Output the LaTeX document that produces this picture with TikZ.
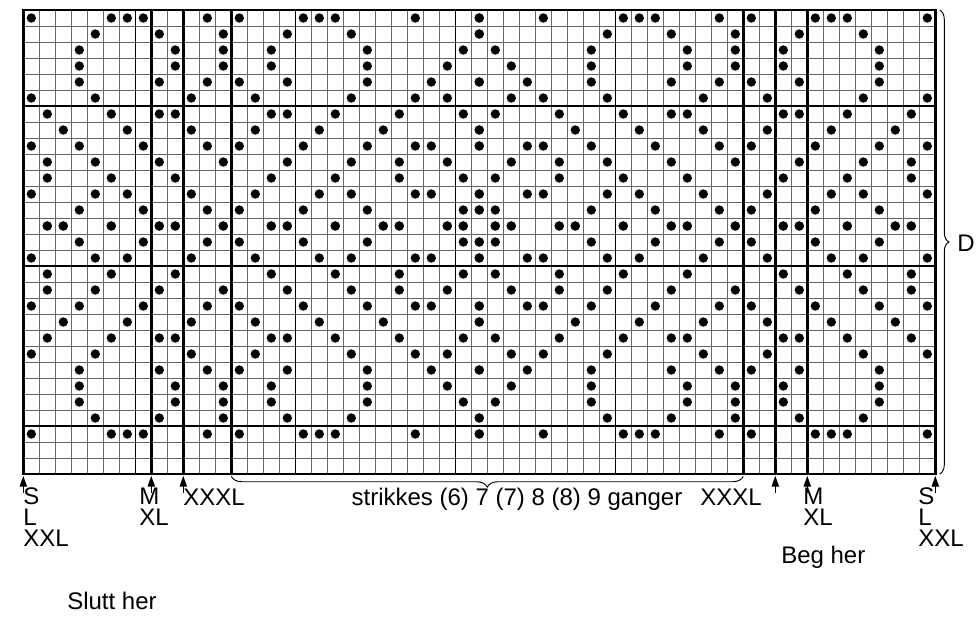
\documentclass[tikz,border=0pt]{standalone}
\usepackage{fontspec}
\setmainfont{Liberation Sans}
\usetikzlibrary{decorations.pathreplacing, arrows.meta}
\begin{document}
\begin{tikzpicture}[x=0.75pt, y=-0.75pt,
  thinline/.style={line width=0.55pt, draw=black!60},
  midline/.style={line width=1.1pt, draw=black},
  topline/.style={line width=1.5pt, draw=black},
  thickline/.style={line width=2.1pt, draw=black},
  stitchdot/.style={fill=black},
  lbl/.style={font=\fontsize{18}{15.75}\selectfont, inner sep=0pt, anchor=base west},
  sizelbl/.style={font=\fontsize{18}{15.75}\selectfont, inner sep=0pt, anchor=north west, align=left},
  sizearrow/.style={line width=0.8pt, -{Triangle[length=8pt,width=5.5pt]}},
  bracestyle/.style={line width=0.7pt, decorate}
]
\useasboundingbox (0,0) rectangle (979,628);
\begin{scope}[shift={(23.3,10)}, x=12pt, y=-12pt]
  % thin grid
  \foreach \i in {0,...,57} \draw[thinline] (\i,0) -- (\i,29);
  \foreach \j in {0,...,29} \draw[thinline] (0,\j) -- (57,\j);
  % dots (pattern symmetric both ways)
  \foreach \r/\cols in {
    0/{0,5,6,7,11,13,17,18,19,24,28},
    1/{4,8,12,16,20,28},
    2/{3,9,12,15,21,27},
    3/{3,9,12,15,21,26},
    4/{3,8,11,13,16,21,25,28},
    5/{0,4,10,14,20,24,26},
    6/{1,5,8,9,15,16,19,23,27},
    7/{2,6,10,14,18,22,28},
    8/{0,3,7,11,13,17,21,24,25,28},
    9/{1,4,8,12,16,20,23,26},
    10/{1,5,9,15,19,23,27},
    11/{0,4,6,10,14,18,20,24,25,28},
    12/{3,7,11,13,17,21,27,28},
    13/{1,2,5,8,9,12,15,16,19,22,23,26,27}}{
    \foreach \c in \cols {
      \fill[stitchdot] ({\c+0.5},{\r+0.5}) circle[radius=3.5pt];
      \fill[stitchdot] ({56.5-\c},{\r+0.5}) circle[radius=3.5pt];
      \fill[stitchdot] ({\c+0.5},{26.5-\r}) circle[radius=3.5pt];
      \fill[stitchdot] ({56.5-\c},{26.5-\r}) circle[radius=3.5pt];
    }
  }
  % medium division lines
  \foreach \i in {7,17,27,37} \draw[midline] (\i,0) -- (\i,29);
  \foreach \j in {6,16,26} \draw[midline] (0,\j) -- (57,\j);
  \draw[topline] (0,0) -- (57,0);
  % thick size lines
  \foreach \i in {0,8,10,13,45,47,49,57} \draw[thickline] (\i,-0.04) -- (\i,29.04);
  \draw[thickline] (-0.04,29) -- (57.04,29);
  % arrow tips and tails
  \foreach \n/\i in {a/0,b/8,c/10,d/47,e/49,f/57}{
    \coordinate (tip\n) at (\i,29.12);
    \coordinate (tail\n) at (\i,30.2);
  }
  % brace ends
  \coordinate (repL) at (13,29.15);
  \coordinate (repR) at (45,29.15);
  \coordinate (dTop) at (57.27,0);
  \coordinate (dBot) at (57.27,29);
\end{scope}
% arrows
\foreach \n in {a,b,c,d,e,f} \draw[sizearrow] (tail\n) -- (tip\n);
% braces
\draw[bracestyle, decoration={brace, mirror, amplitude=8pt}] (repL) -- (repR);
\draw[bracestyle, decoration={brace, amplitude=7pt}] (dTop) -- (dBot);
% labels
\node[sizelbl] (lSLXXL) at (23,487.5) {S\\L\\XXL};
\node[sizelbl] (lMXL) at (139,487.8) {M\\XL};
\node[lbl] (lXXXL) at (183,505) {XXXL};
\node[lbl, anchor=base] (rep) at (517,505) {strikkes (6) 7 (7) 8 (8) 9 ganger};
\node[lbl] (rXXXL) at (700,505) {XXXL};
\node[sizelbl] (rMXL) at (803,487.8) {M\\XL};
\node[sizelbl] (rSLXXL) at (918,487.5) {S\\L\\XXL};
\node[lbl] (beg) at (781,563) {Beg her};
\node[lbl] (slutt) at (67,609) {Slutt her};
\node[lbl] (D) at (957,251) {D};
\end{tikzpicture}
\end{document}
